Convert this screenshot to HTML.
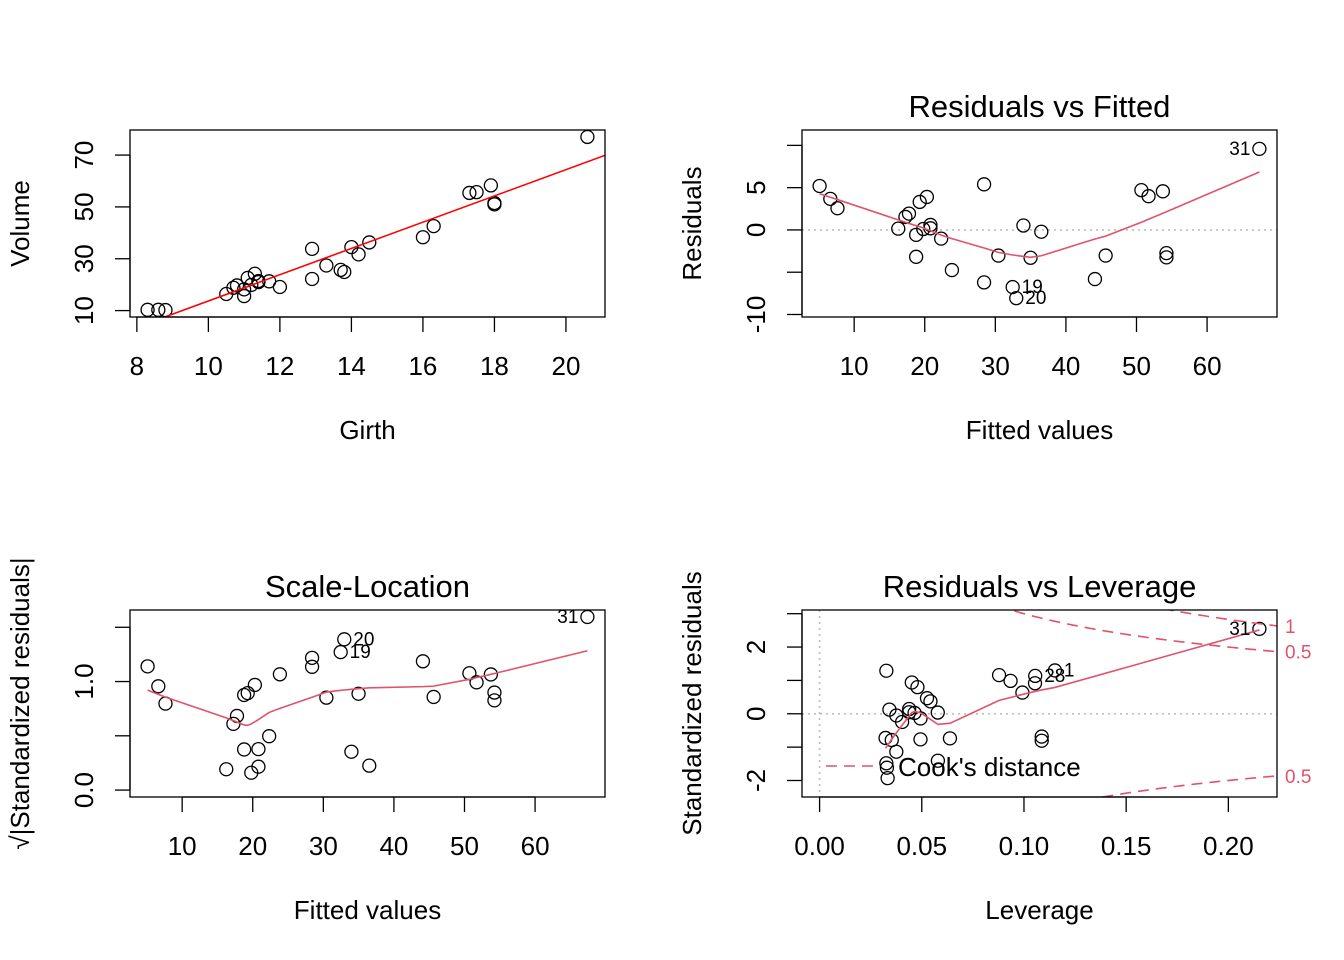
<!DOCTYPE html>
<html><head><meta charset="utf-8"><style>
html,body{margin:0;padding:0;background:#fff;overflow:hidden;width:1344px;height:960px}
svg{display:block;font-family:"Liberation Sans",Arial,sans-serif}
</style></head><body>
<svg id="chart" width="1344" height="960" viewBox="0 0 1344 960" xmlns="http://www.w3.org/2000/svg"></svg>
<script>
const girth=[8.3,8.6,8.8,10.5,10.7,10.8,11.0,11.0,11.1,11.2,11.3,11.4,11.4,11.7,12.0,12.9,12.9,13.3,13.7,13.8,14.0,14.2,14.5,16.0,16.3,17.3,17.5,17.9,18.0,18.0,20.6];
const volume=[10.3,10.3,10.2,16.4,18.8,19.7,15.6,18.2,22.6,19.9,24.2,21.0,21.4,21.3,19.1,22.2,33.8,27.4,25.7,24.9,34.5,31.7,36.3,38.3,42.6,55.4,55.7,58.3,51.5,51.0,77.0];
const xTicks1=[8,10,12,14,16,18,20];
const yTicks1=[10,30,50,70];
const fitTicks=[10,20,30,40,50,60];
const resTicks=[-10,-5,0,5,10];
const resTickLabels=["-10","","0","5",""];
const slTicks=[0,0.5,1,1.5];
const slTickLabels=["0.0","","1.0",""];
const levTicks=[0,0.05,0.10,0.15,0.20];
const levTickLabels=["0.00","0.05","0.10","0.15","0.20"];
const rlTicks=[-2,-1,0,1,2,3];
const rlTickLabels=["-2","","0","","2",""];
const cookLevels=[0.5,1];

const NS="http://www.w3.org/2000/svg";
const svg=document.getElementById('chart');
function el(tag,attrs,parent){const e=document.createElementNS(NS,tag);for(const k in attrs)e.setAttribute(k,attrs[k]);(parent||svg).appendChild(e);return e;}
const FS=26;

const n=girth.length;
const mx=girth.reduce((a,b)=>a+b)/n, my=volume.reduce((a,b)=>a+b)/n;
let sxx=0,sxy=0;for(let i=0;i<n;i++){sxx+=(girth[i]-mx)**2;sxy+=(girth[i]-mx)*(volume[i]-my);}
const b1=sxy/sxx,b0=my-b1*mx;
const fitted=girth.map(g=>b0+b1*g);
const res=volume.map((v,i)=>v-fitted[i]);
const hat=girth.map(g=>1/n+(g-mx)**2/sxx);
const sig=Math.sqrt(res.reduce((a,r)=>a+r*r,0)/(n-2));
const rs=res.map((r,i)=>r/(sig*Math.sqrt(1-hat[i])));
const pp=2;
const cook=rs.map((r,i)=>r*r/pp*hat[i]/(1-hat[i]));

function lowess(xi,yi,f=2/3,iter=3){
  const idx=xi.map((_,i)=>i).sort((a,b)=>xi[a]-xi[b]);
  const x=idx.map(i=>xi[i]),y=idx.map(i=>yi[i]);const N=x.length;
  const ns=Math.max(Math.min(Math.round(f*N),N),2);
  const range=x[N-1]-x[0];let rw=new Array(N).fill(1);let ys=new Array(N);
  for(let it=0;it<=iter;it++){
    let nl=0,nr=ns-1;
    for(let i=0;i<N;i++){
      const xs=x[i];
      while(nr<N-1&&xs-x[nl]>x[nr+1]-xs){nl++;nr++;}
      const h=Math.max(xs-x[nl],x[nr]-xs),h9=.999*h,h1=.001*h;
      const w=new Array(N).fill(0);let a=0,j=nl;
      for(;j<N;j++){const r=Math.abs(x[j]-xs);
        if(r<=h9){w[j]=r<=h1?1:Math.pow(1-Math.pow(r/h,3),3);if(it>0)w[j]*=rw[j];a+=w[j];}
        else if(x[j]>xs)break;}
      const nrt=j-1;
      if(a<=0){ys[i]=y[i];continue;}
      for(j=nl;j<=nrt;j++)w[j]/=a;
      if(h>0){let aa=0;for(j=nl;j<=nrt;j++)aa+=w[j]*x[j];let b=xs-aa,c=0;for(j=nl;j<=nrt;j++)c+=w[j]*(x[j]-aa)**2;
        if(Math.sqrt(c)>.001*range){b/=c;for(j=nl;j<=nrt;j++)w[j]*=(b*(x[j]-aa)+1);}}
      let s=0;for(j=nl;j<=nrt;j++)s+=w[j]*y[j];ys[i]=s;
    }
    if(it===iter)break;
    const r=y.map((v,i)=>Math.abs(v-ys[i]));const sr=[...r].sort((a,b)=>a-b);
    const m=N%2?sr[(N-1)/2]:(sr[N/2-1]+sr[N/2])/2;const cmad=6*m;
    if(cmad<1e-7)break;
    rw=r.map(v=>v<=.001*cmad?1:(v<=.999*cmad?(1-(v/cmad)**2)**2:0));
  }
  return {x,y:ys};
}
function pad(lo,hi){const d=hi-lo;return [lo-.04*d,hi+.04*d];}
function ext(lo,hi,f){const d=hi-lo;return [lo-f*d,hi+f*d];}
const mn=a=>Math.min(...a),mxv=a=>Math.max(...a);
const RED="#DF536B";
let clipId=0;

function panel(name,L,T,W,H,xlim,ylim,opts){
  const g=el('g',{});
  
  
  const sx=v=>L+(v-xlim[0])/(xlim[1]-xlim[0])*W;
  const sy=v=>T+H-(v-ylim[0])/(ylim[1]-ylim[0])*H;
  const cid='clip'+(clipId++);
  const cp=el('clipPath',{id:cid},g);el('rect',{x:L,y:T,width:W,height:H},cp);
  const plot=el('g',{'clip-path':'url(#'+cid+')'},g);
  const xa=el('g',{},g);
  
  
  el('line',{x1:sx(opts.xt[0]),x2:sx(opts.xt[opts.xt.length-1]),y1:T+H,y2:T+H,stroke:'#000','stroke-width':1.3},xa);
  opts.xt.forEach((t,i)=>{el('line',{x1:sx(t),x2:sx(t),y1:T+H,y2:T+H+15,stroke:'#000','stroke-width':1.3},xa);
    const tx=el('text',{x:sx(t),y:T+H+58,'font-size':FS,'text-anchor':'middle'},xa);tx.textContent=opts.xl[i];
    
    });
  const ya=el('g',{},g);
  
  
  el('line',{x1:L,x2:L,y1:sy(opts.yt[0]),y2:sy(opts.yt[opts.yt.length-1]),stroke:'#000','stroke-width':1.3},ya);
  opts.yt.forEach((t,i)=>{el('line',{x1:L-15,x2:L,y1:sy(t),y2:sy(t),stroke:'#000','stroke-width':1.3},ya);
    if(opts.yl[i]){const tx=el('text',{x:L-37,y:sy(t),'font-size':FS,'text-anchor':'middle',transform:`rotate(-90 ${L-37} ${sy(t)})`},ya);tx.textContent=opts.yl[i];
    
    }});
  el('rect',{x:L,y:T,width:W,height:H,fill:'none',stroke:'#000','stroke-width':1.3},g);
  const xt=el('text',{x:L+W/2,y:T+H+122,'font-size':FS,'text-anchor':'middle'},g);xt.textContent=opts.xtitle;
  
  
  const yx=L-101,yy=T+H/2;
  const yt=el('text',{x:yx,y:yy,'font-size':FS,'text-anchor':'middle',transform:`rotate(-90 ${yx} ${yy})`},g);yt.textContent=opts.ytitle;
  
  
  if(opts.title){const tt=el('text',{x:L+W/2,y:T-13,'font-size':31,'text-anchor':'middle'},g);tt.textContent=opts.title;
    
    }
  return {g,plot,sx,sy};
}
function points(p,xs,ys){xs.forEach((x,i)=>{const c=el('circle',{cx:p.sx(x),cy:p.sy(ys[i]),r:6.5,fill:'none',stroke:'#000','stroke-width':1.3},p.plot);
  
  });}
function smooth(p,xs,ys){const lo=lowess(xs,ys);const d=lo.x.map((x,i)=>(i?'L':'M')+p.sx(x).toFixed(2)+','+p.sy(lo.y[i]).toFixed(2)).join('');
  const pa=el('path',{d,fill:'none',stroke:RED,'stroke-width':1.6},p.plot);
  
  }
function labels(p,xs,ys,ind){const lx=ind.map(i=>xs[i]);const mid=(mn(lx)+mxv(lx))/2;
  ind.forEach(i=>{const left=xs[i]>mid;const t=el('text',{x:p.sx(xs[i])+(left?-9:9),y:p.sy(ys[i])+6,'font-size':19,'text-anchor':left?'end':'start'},p.g);t.textContent=String(i+1);
  
  });}
function topk(arr,k){return arr.map((v,i)=>i).sort((a,b)=>arr[b]-arr[a]).slice(0,k);}

{const p=panel('scatter-volume-vs-girth',130,130,475,187,pad(mn(girth),mxv(girth)),pad(mn(volume),mxv(volume)),{xt:xTicks1,xl:xTicks1.map(String),yt:yTicks1,yl:yTicks1.map(String),xtitle:'Girth',ytitle:'Volume'});
 points(p,girth,volume);
 const xl=[7,22];const ln=el('line',{x1:p.sx(xl[0]),y1:p.sy(b0+b1*xl[0]),x2:p.sx(xl[1]),y2:p.sy(b0+b1*xl[1]),stroke:'#FF0000','stroke-width':1.6},p.plot);
 
 }
{const yl=ext(mn(res),mxv(res),0.08);
 const p=panel('residuals-vs-fitted',802,130,475,187,pad(mn(fitted),mxv(fitted)),pad(yl[0],yl[1]),{xt:fitTicks,xl:fitTicks.map(String),yt:resTicks,yl:resTickLabels,xtitle:'Fitted values',ytitle:'Residuals',title:'Residuals vs Fitted'});
 el('line',{x1:802,x2:1277,y1:p.sy(0),y2:p.sy(0),stroke:'#BEBEBE','stroke-width':1.6,'stroke-dasharray':'2 4'},p.plot);
 points(p,fitted,res);smooth(p,fitted,res);
 labels(p,fitted,res,topk(res.map(Math.abs),3));}
{const yl=rs.map(r=>Math.sqrt(Math.abs(r)));const top=mxv(yl);const yr=[0,top];
 const p=panel('scale-location',130,610,475,187,pad(mn(fitted),mxv(fitted)),pad(yr[0],yr[1]),{xt:fitTicks,xl:fitTicks.map(String),yt:slTicks,yl:slTickLabels,xtitle:'Fitted values',ytitle:'\u221A|Standardized residuals|',title:'Scale-Location'});
 points(p,fitted,yl);smooth(p,fitted,yl);
 labels(p,fitted,yl,topk(res.map(Math.abs),3));}
{const xr=pad(0,mxv(hat));const yr0=ext(mn(rs),mxv(rs),0.08);const yr=pad(yr0[0],yr0[1]);
 const p=panel('residuals-vs-leverage',802,610,475,187,xr,yr,{xt:levTicks,xl:levTickLabels,yt:rlTicks,yl:rlTickLabels,xtitle:'Leverage',ytitle:'Standardized residuals',title:'Residuals vs Leverage'});
 el('line',{x1:802,x2:1277,y1:p.sy(0),y2:p.sy(0),stroke:'#BEBEBE','stroke-width':1.6,'stroke-dasharray':'2 4'},p.plot);
 el('line',{x1:p.sx(0),x2:p.sx(0),y1:610,y2:797,stroke:'#BEBEBE','stroke-width':1.6,'stroke-dasharray':'2 4'},p.plot);
 points(p,hat,rs);smooth(p,hat,rs);
 const h0=Math.min(hat[0],hat[1]/100);
 cookLevels.forEach(c=>{[-1,1].forEach(sg=>{let d='';for(let k=0;k<=100;k++){const hh=h0+(xr[1]-h0)*k/100;const y=sg*Math.sqrt(c*pp*(1-hh)/hh);d+=(k?'L':'M')+p.sx(hh).toFixed(2)+','+Math.max(-5000,Math.min(5000,p.sy(y))).toFixed(2);}
   const pa=el('path',{d,fill:'none',stroke:RED,'stroke-width':1.6,'stroke-dasharray':'11 7'},p.plot);
   
   
   const ay=sg*Math.sqrt(c*pp*(1-xr[1])/xr[1]);
   if(ay>=yr[0]&&ay<=yr[1]){const t=el('text',{x:1285,y:p.sy(ay)+7,'font-size':19,fill:RED},p.g);t.textContent=String(c);
     
     }});});
 labels(p,hat,rs,topk(cook,3));
 const lg=el('g',{},p.g);
 
 
 el('line',{x1:826,x2:880,y1:766,y2:766,stroke:RED,'stroke-width':1.6,'stroke-dasharray':'11 7'},lg);
 const t=el('text',{x:898,y:776,'font-size':FS},lg);t.textContent="Cook's distance";}
</script>
</body></html>
